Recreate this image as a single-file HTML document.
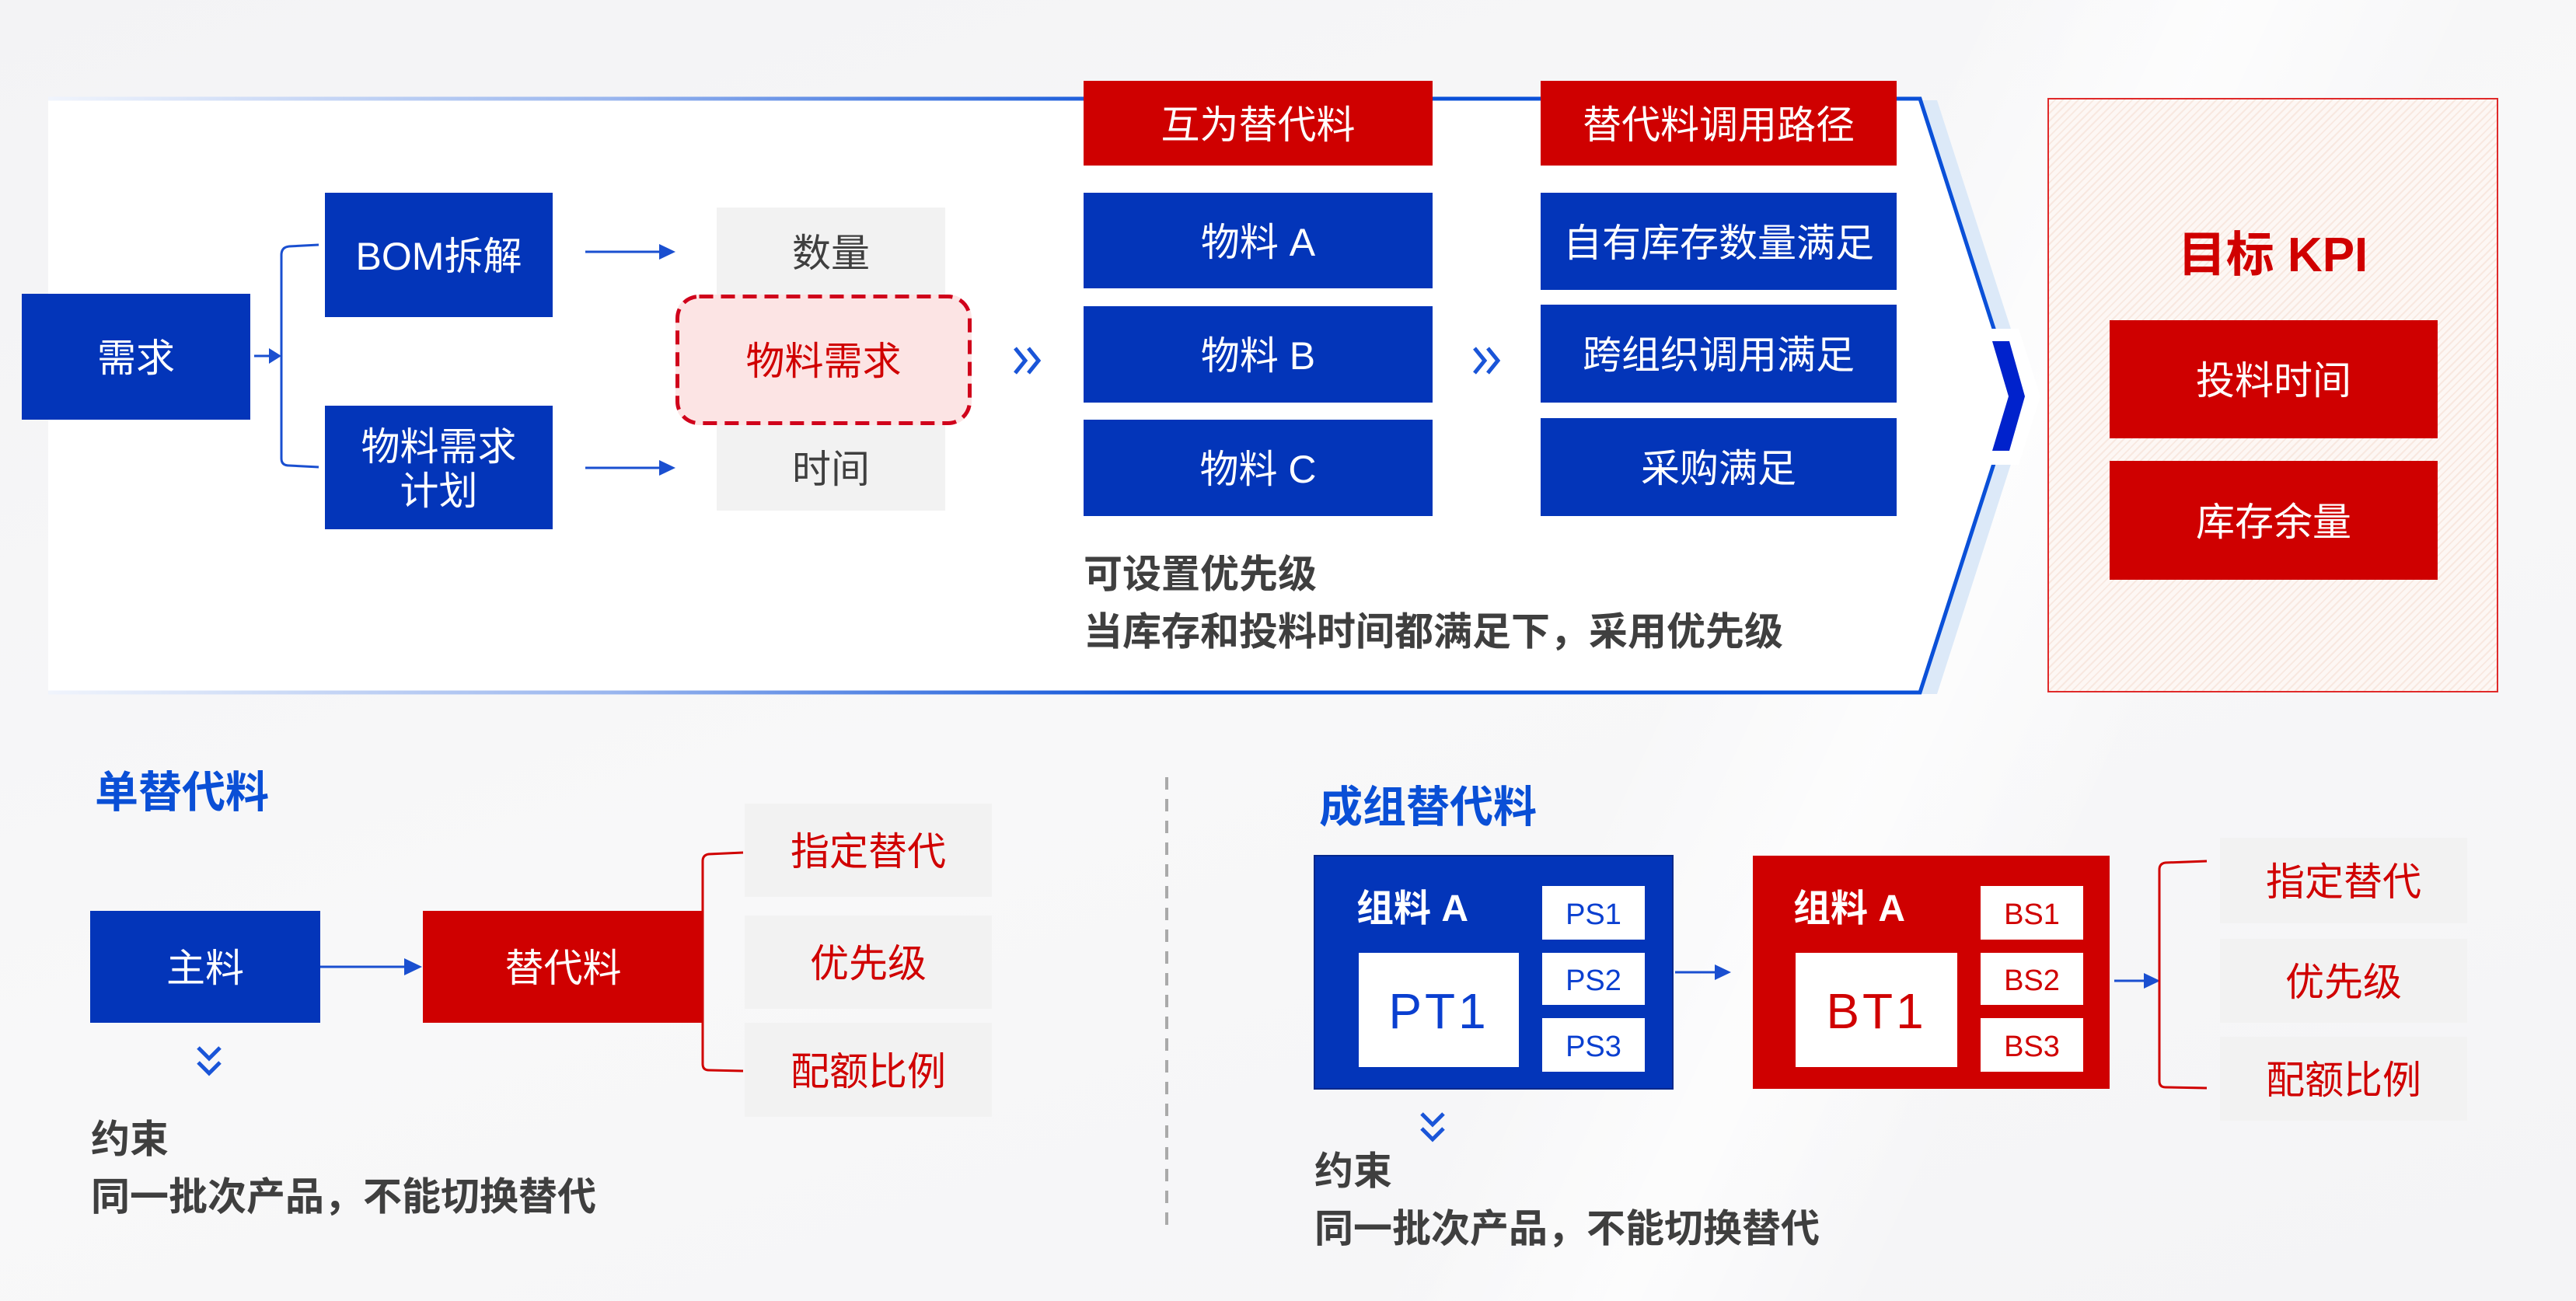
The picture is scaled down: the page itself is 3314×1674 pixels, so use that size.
<!DOCTYPE html>
<html><head><meta charset="utf-8">
<style>
*{margin:0;padding:0;box-sizing:border-box}
html,body{width:3314px;height:1674px;overflow:hidden;background:#f6f6f7}
body{position:relative;font-family:"Liberation Sans","Noto Sans CJK SC",sans-serif}
.bg{position:absolute;left:0;top:0;width:3314px;height:1674px;
 background:
 linear-gradient(115deg, rgba(255,255,255,0) 0%, rgba(255,255,255,0) 62%, rgba(255,255,255,.7) 70%, rgba(255,255,255,0) 78%),
 linear-gradient(160deg,#f3f3f5 0%,#f8f8f9 50%,#f4f4f6 100%);}
svg{position:absolute;left:0;top:0}
.b{position:absolute;display:flex;align-items:center;justify-content:center;text-align:center;font-size:50px;line-height:1.18;color:#fff;padding-top:5px}
.blue{background:#0335b9}
.red{background:#cf0000}
.gray{background:#f2f2f2;color:#3f3f3f}
.grayr{background:#f2f2f2;color:#d00000}
.t{position:absolute;white-space:nowrap;line-height:1;transform:translateY(calc(-50% + 3px))}
.bold{font-weight:bold}
</style></head><body>
<div class="bg"></div>

<svg width="3314" height="1674" viewBox="0 0 3314 1674">
 <defs>
  <linearGradient id="gl" gradientUnits="userSpaceOnUse" x1="62" y1="0" x2="1500" y2="0">
   <stop offset="0" stop-color="#f0f4fc"/>
   <stop offset="0.5" stop-color="#9ab6ee"/>
   <stop offset="1" stop-color="#0a50d8"/>
  </linearGradient>
 </defs>
 <polygon points="84,129 2492,129 2615,510 2492,893 84,893" fill="#dce9f8"/>
 <polygon points="62,127 2470,127 2593,510 2470,891 62,891" fill="#ffffff"/>
 <polyline points="62,127 2470,127 2593,510 2470,891 62,891" fill="none" stroke="url(#gl)" stroke-width="5" stroke-linejoin="miter"/>
 <polygon points="2540,423 2597,423 2625,510 2597,598 2540,598" fill="#ffffff"/>
 <polygon points="2563,439 2585,439 2605,510 2585,580 2563,580 2584,510" fill="#0022cc"/>
</svg>

<div style="position:absolute;left:2634px;top:126px;width:580px;height:765px;border:2px solid #e02a2a;background:repeating-linear-gradient(135deg,#fdf7f4 0px,#fdf7f4 5px,#f8e8e0 5px,#f8e8e0 7px)"></div>

<div class="b blue" style="left:28px;top:378px;width:294px;height:162px">需求</div>
<div class="b blue" style="left:418px;top:248px;width:293px;height:160px">BOM拆解</div>
<div class="b blue" style="left:418px;top:522px;width:293px;height:159px;line-height:1.14">物料需求<br>计划</div>

<div class="b gray" style="left:922px;top:267px;width:294px;height:113px">数量</div>
<div class="b gray" style="left:922px;top:547px;width:294px;height:110px">时间</div>
<div style="position:absolute;left:869px;top:379px;width:381px;height:168px;border-radius:30px;background:#fce4e4"></div>
<svg width="3314" height="1674" viewBox="0 0 3314 1674">
 <rect x="871.5" y="381.5" width="376" height="163" rx="28" ry="28" fill="none" stroke="#d0021b" stroke-width="5" stroke-dasharray="18 10"/>
</svg>
<div class="b" style="left:869px;top:379px;width:381px;height:168px;color:#d00000">物料需求</div>

<div class="b red" style="left:1394px;top:104px;width:449px;height:109px">互为替代料</div>
<div class="b red" style="left:1982px;top:104px;width:458px;height:109px">替代料调用路径</div>
<div class="b blue" style="left:1394px;top:248px;width:449px;height:123px">物料 A</div>
<div class="b blue" style="left:1394px;top:394px;width:449px;height:124px">物料 B</div>
<div class="b blue" style="left:1394px;top:540px;width:449px;height:124px">物料 C</div>
<div class="b blue" style="left:1982px;top:248px;width:458px;height:125px">自有库存数量满足</div>
<div class="b blue" style="left:1982px;top:392px;width:458px;height:126px">跨组织调用满足</div>
<div class="b blue" style="left:1982px;top:538px;width:458px;height:126px">采购满足</div>

<div class="t bold" style="left:1394px;top:736px;font-size:50px;color:#3f3f3f">可设置优先级</div>
<div class="t bold" style="left:1394px;top:810px;font-size:50px;color:#3f3f3f">当库存和投料时间都满足下，采用优先级</div>

<div class="t bold" style="left:2634px;width:580px;text-align:center;top:326px;font-size:62px;color:#d00000">目标 KPI</div>
<div class="b red" style="left:2714px;top:412px;width:422px;height:152px">投料时间</div>
<div class="b red" style="left:2714px;top:593px;width:422px;height:153px">库存余量</div>

<div class="t bold" style="left:122px;top:1017px;font-size:56px;color:#0a4fd6">单替代料</div>
<div class="b blue" style="left:116px;top:1172px;width:296px;height:144px">主料</div>
<div class="b red" style="left:544px;top:1172px;width:361px;height:144px">替代料</div>
<div class="b grayr" style="left:958px;top:1034px;width:318px;height:120px">指定替代</div>
<div class="b grayr" style="left:958px;top:1178px;width:318px;height:120px">优先级</div>
<div class="b grayr" style="left:958px;top:1316px;width:318px;height:121px">配额比例</div>
<div class="t bold" style="left:117px;top:1463px;font-size:50px;color:#3f3f3f">约束</div>
<div class="t bold" style="left:117px;top:1537px;font-size:50px;color:#3f3f3f">同一批次产品，不能切换替代</div>

<div class="t bold" style="left:1697px;top:1036px;font-size:56px;color:#0a4fd6">成组替代料</div>
<div style="position:absolute;left:1690px;top:1100px;width:463px;height:302px;background:#0335b9;border:2px solid #06288c"></div>
<div class="t bold" style="left:1745px;top:1167px;font-size:48px;color:#fff">组料 A</div>
<div class="b" style="left:1748px;top:1226px;width:206px;height:147px;background:#fff;color:#0a3fd0;font-size:64px;letter-spacing:4px">PT1</div>
<div class="b" style="left:1984px;top:1140px;width:132px;height:69px;background:#fff;color:#0a3fd0;font-size:38px">PS1</div>
<div class="b" style="left:1984px;top:1226px;width:132px;height:67px;background:#fff;color:#0a3fd0;font-size:38px">PS2</div>
<div class="b" style="left:1984px;top:1310px;width:132px;height:69px;background:#fff;color:#0a3fd0;font-size:38px">PS3</div>

<div style="position:absolute;left:2255px;top:1101px;width:459px;height:300px;background:#cf0000"></div>
<div class="t bold" style="left:2307px;top:1167px;font-size:48px;color:#fff">组料 A</div>
<div class="b" style="left:2310px;top:1226px;width:208px;height:147px;background:#fff;color:#d00000;font-size:64px;letter-spacing:4px">BT1</div>
<div class="b" style="left:2548px;top:1140px;width:132px;height:69px;background:#fff;color:#d00000;font-size:38px">BS1</div>
<div class="b" style="left:2548px;top:1226px;width:132px;height:67px;background:#fff;color:#d00000;font-size:38px">BS2</div>
<div class="b" style="left:2548px;top:1310px;width:132px;height:69px;background:#fff;color:#d00000;font-size:38px">BS3</div>

<div class="b grayr" style="left:2856px;top:1078px;width:318px;height:110px">指定替代</div>
<div class="b grayr" style="left:2856px;top:1208px;width:318px;height:108px">优先级</div>
<div class="b grayr" style="left:2856px;top:1334px;width:318px;height:108px">配额比例</div>
<div class="t bold" style="left:1691px;top:1504px;font-size:50px;color:#3f3f3f">约束</div>
<div class="t bold" style="left:1691px;top:1578px;font-size:50px;color:#3f3f3f">同一批次产品，不能切换替代</div>

<svg width="3314" height="1674" viewBox="0 0 3314 1674">
 <g fill="none" stroke="#1a4fd0" stroke-width="3">
  <path d="M410,315 L372,317 Q362,318 362,328 L362,590 Q362,599 372,599 L410,601"/>
  <line x1="327" y1="458" x2="350" y2="458"/>
  <line x1="753" y1="324" x2="850" y2="324"/>
  <line x1="753" y1="602" x2="850" y2="602"/>
  <line x1="412" y1="1244" x2="522" y2="1244"/>
  <line x1="2155" y1="1251" x2="2208" y2="1251"/>
  <line x1="2720" y1="1262" x2="2760" y2="1262"/>
 </g>
 <g fill="#1a4fd0">
  <polygon points="346,448 362,458 346,468"/>
  <polygon points="848,314 869,324 848,334"/>
  <polygon points="848,592 869,602 848,612"/>
  <polygon points="520,1233 543,1244 520,1255"/>
  <polygon points="2206,1241 2227,1251 2206,1261"/>
  <polygon points="2758,1252 2779,1262 2758,1272"/>
 </g>
 <g fill="none" stroke="#1a55d8" stroke-width="5" stroke-linecap="butt" stroke-linejoin="miter">
  <polyline points="1306,448 1319,464 1306,480"/>
  <polyline points="1323,448 1336,464 1323,480"/>
  <polyline points="1897,448 1910,464 1897,480"/>
  <polyline points="1914,448 1927,464 1914,480"/>
  <polyline points="255,1348 269,1362 283,1348"/>
  <polyline points="255,1367 269,1381 283,1367"/>
  <polyline points="1829,1433 1843,1447 1857,1433"/>
  <polyline points="1829,1452 1843,1466 1857,1452"/>
 </g>
 <g fill="none" stroke="#d00000" stroke-width="3">
  <path d="M956,1097 L912,1099 Q904,1100 904,1108 L904,1369 Q904,1377 912,1377 L956,1378"/>
  <path d="M2839,1108 L2786,1110 Q2778,1111 2778,1119 L2778,1391 Q2778,1399 2786,1399 L2839,1400"/>
 </g>
 <line x1="1501" y1="1000" x2="1501" y2="1576" stroke="#aaaaaa" stroke-width="4" stroke-dasharray="16 12"/>
</svg>
</body></html>
